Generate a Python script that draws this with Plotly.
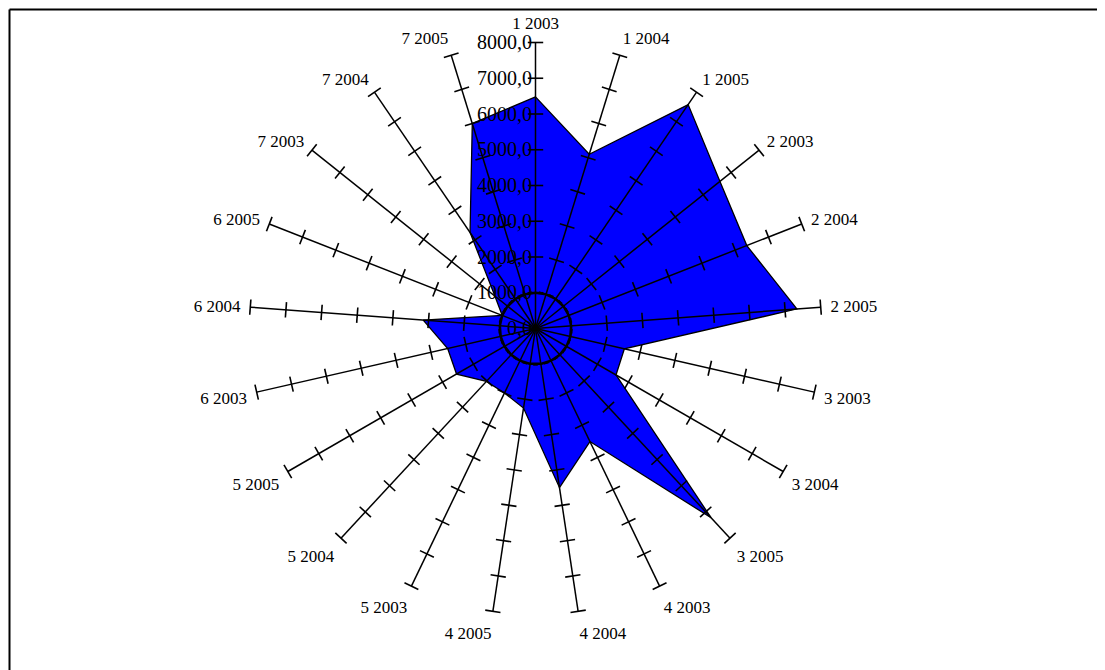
import plotly.graph_objects as go

categories = ["1 2003", "1 2004", "1 2005", "2 2003", "2 2004", "2 2005",
              "3 2003", "3 2004", "3 2005", "4 2003", "4 2004", "4 2005",
              "5 2003", "5 2004", "5 2005", "6 2003", "6 2004", "6 2005",
              "7 2003", "7 2004", "7 2005"]
values = [6480, 5100, 7580, 6600, 6350, 7330,
          2550, 2600, 7220, 3510, 4500, 2250,
          2000, 2020, 2550, 2520, 3150, 1000,
          1450, 3250, 6000]
ring = [1000, 1000, 1000, 1000, 1000, 1000, 1000,
        1000, 1000, 1000, 1000, 1000, 1000, 1000,
        1000, 1000, 1000, 1000, 1000, 1000, 1000]
tick_vals = [0, 1000, 2000, 3000, 4000, 5000, 6000, 7000, 8000]
tick_text = ["0,0", "1000,0", "2000,0", "3000,0", "4000,0",
             "5000,0", "6000,0", "7000,0", "8000,0"]

# page body adds an 8px offset, so work in figure coordinates
W, H = 1097, 662
CX, CY, R = 527.5, 320.5, 286
FONT = "Liberation Serif"

fig = go.Figure()

fig.add_trace(go.Scatterpolar(
    r=values + values[:1], theta=categories + categories[:1],
    mode="lines", fill="toself", fillcolor="#0000FF",
    line=dict(color="black", width=1.3), hoverinfo="skip", showlegend=False))

fig.add_trace(go.Scatterpolar(
    r=ring + ring[:1], theta=categories + categories[:1],
    mode="lines", line=dict(color="black", width=2.5),
    hoverinfo="skip", showlegend=False))

rmax = tick_vals[-1]
for c in categories:
    fig.add_trace(go.Scatterpolar(
        r=[tick_vals[0], rmax], theta=[c, c], mode="lines",
        line=dict(color="black", width=1.5), hoverinfo="skip", showlegend=False))

n = len(categories)
tr, tt, ta = [], [], []
for i, c in enumerate(categories):
    for v in tick_vals[1:]:
        tr.append(v)
        tt.append(c)
        ta.append(i * 360.0 / n)
fig.add_trace(go.Scatterpolar(
    r=tr, theta=tt, mode="markers",
    marker=dict(symbol="line-ew", size=11, angle=ta,
                line=dict(color="black", width=1.6)),
    hoverinfo="skip", showlegend=False))

fig.update_layout(
    width=W, height=H,
    margin=dict(l=0, r=0, t=0, b=0),
    paper_bgcolor="white",
    showlegend=False,
    polar=dict(
        domain=dict(x=[(CX - R) / W, (CX + R) / W],
                    y=[1 - (CY + R) / H, 1 - (CY - R) / H]),
        bgcolor="rgba(0,0,0,0)",
        radialaxis=dict(range=[0, rmax], tickvals=tick_vals, ticktext=tick_text,
                        angle=90, side="counterclockwise", showgrid=False,
                        showline=False, ticks="", tickangle=90,
                        tickfont=dict(family=FONT, size=20, color="black")),
        angularaxis=dict(type="category", categoryorder="array",
                         categoryarray=categories, direction="clockwise",
                         rotation=90, showgrid=False, showline=False,
                         ticks="outside", ticklen=6, tickcolor="rgba(0,0,0,0)",
                         tickfont=dict(family=FONT, size=17, color="black")),
    ),
    shapes=[
        dict(type="line", xref="paper", yref="paper", x0=1.5 / W, x1=1.5 / W,
             y0=0, y1=1 - 1.5 / H, line=dict(color="black", width=2)),
        dict(type="line", xref="paper", yref="paper", x0=1.5 / W, x1=1,
             y0=1 - 1.5 / H, y1=1 - 1.5 / H, line=dict(color="black", width=2)),
    ],
)

fig.write_html("out.html")
